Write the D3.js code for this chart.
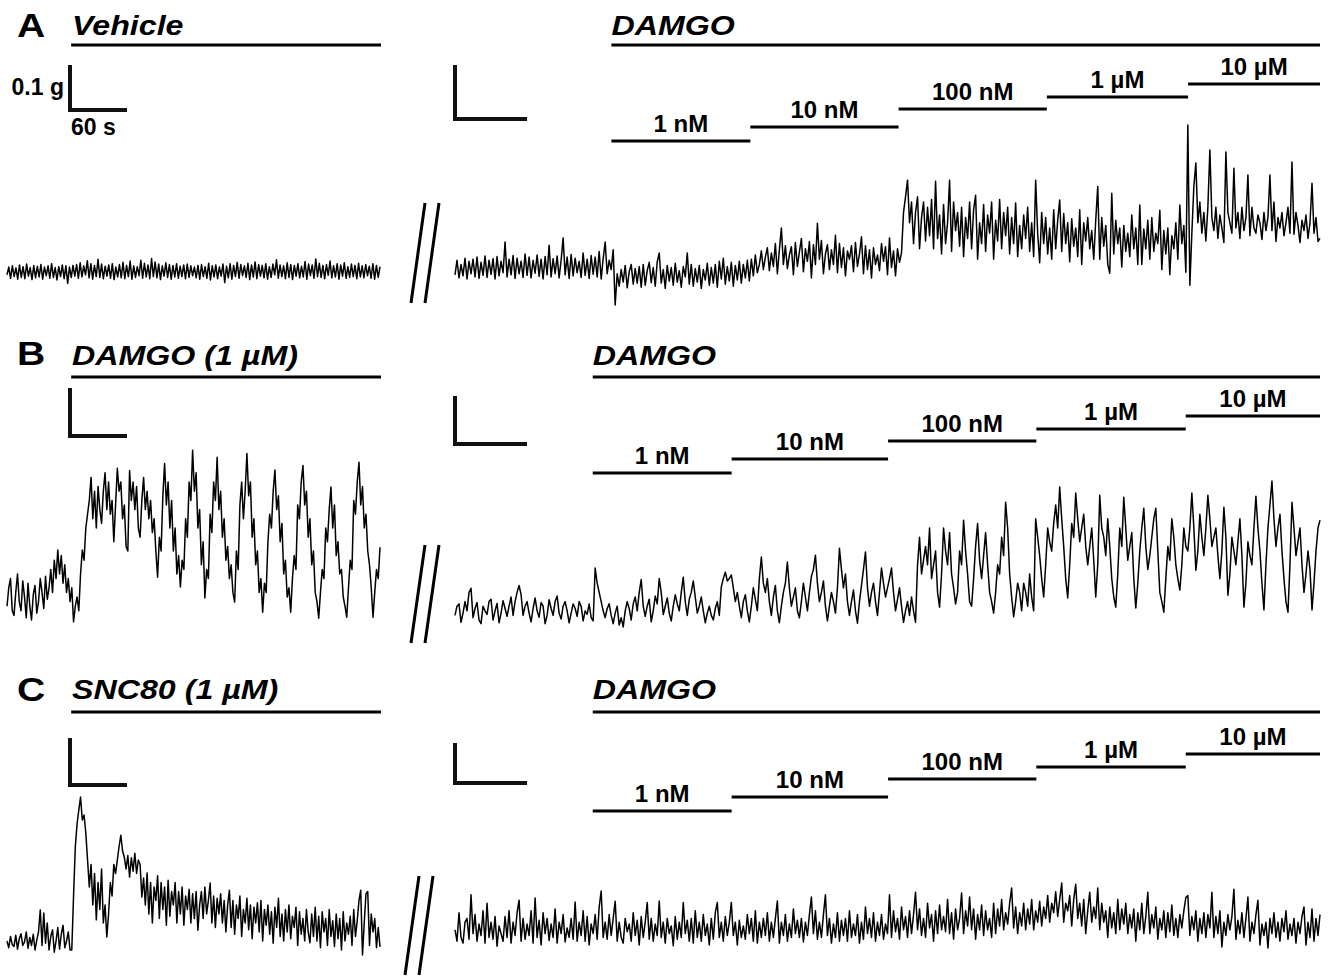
<!DOCTYPE html>
<html>
<head>
<meta charset="utf-8">
<title>DAMGO tension traces</title>
<script src="https://cdnjs.cloudflare.com/ajax/libs/d3/7.8.5/d3.min.js"></script>
<style>
body { margin: 0; background: #fff; }
svg text {
  font-family: "Liberation Sans", Arial, Helvetica, sans-serif;
  font-weight: bold;
  fill: #000;
}
</style>
</head>
<body>
<svg id="chart" width="1331" height="977"></svg>
<script>

/* ---- data: tension in mg (relative to resting level), sampled evenly in time ---- */

var LEFT_DURATION = 407;   // s, pre-treatment recording
var RIGHT_DURATION = 741;  // s, cumulative DAMGO recording
var LEFT_DRUG_START = 70;  // s

var doseLabels = ["1 nM", "10 nM", "100 nM", "1 \u00b5M", "10 \u00b5M"];
var doseTimesA = [134, 253, 380, 507, 628, 741];
var doseTimesB = [118, 237, 371, 498, 626, 741];
var doseTimesC = [118, 237, 371, 498, 626, 741];

var pretreatLabels = ["Vehicle", "DAMGO (1 \u00b5M)", "SNC80 (1 \u00b5M)"];

var traceA_left = [
  12,30,4,33,8,28,2,35,6,31,3,37,9,29,1,34,5,32,7,36,
  2,30,10,33,4,38,6,29,0,31,8,35,3,33,-8,30,6,34,9,36,
  4,40,7,33,12,45,5,38,2,34,8,48,6,37,3,32,9,35,4,38,
  1,30,7,36,5,41,3,34,8,44,2,33,6,31,10,46,4,39,7,35,
  3,50,8,42,5,37,1,33,9,40,6,36,2,34,7,38,4,32,8,35,
  3,37,6,33,10,30,5,34,2,36,8,31,4,39,0,33,7,35,3,30,
  9,37,-6,32,5,38,2,34,8,41,4,36,10,33,6,39,1,35,7,42,
  3,36,9,34,5,38,2,31,6,37,12,47,4,35,8,33,3,40,6,36,
  1,34,9,38,5,32,7,43,2,37,10,35,4,49,8,39,6,34,3,36,
  11,44,5,33,7,38,2,35,9,40,4,31,6,37,8,34,3,39,7,33,
  5,36,10,32,4,38,2,34,6,31
];

var traceA_right = [
  10,38,4,30,8,42,2,36,12,40,6,44,3,34,9,46,5,38,11,41,
  2,45,8,36,14,73,6,40,10,47,3,42,12,36,5,50,9,44,4,38,
  13,48,7,40,2,45,10,67,6,41,12,46,4,38,81,10,44,3,49,8,
  42,14,36,5,52,9,40,3,47,11,44,6,55,2,41,73,12,38,20,
  58,-48,
  12,-12,20,-4,28,-15,16,30,-8,22,-6,26,-14,30,-10,18,34,-5,24,-12,
  35,52,-6,20,-16,28,-2,24,-10,32,-4,18,-14,26,6,52,-8,30,-12,22,
  -4,28,-16,20,0,32,-10,24,-6,30,-14,36,2,42,-8,26,-2,34,-12,28,
  0,36,-6,30,4,38,-2,40,
  8,48,14,30,56,20,44,62,18,52,26,70,12,58,100,30,66,22,48,64,
  10,72,26,54,80,16,60,36,74,4,68,30,109,40,76,12,50,68,20,58,
  30,86,14,70,24,62,8,56,40,66,16,72,26,50,83,12,66,20,58,4,
  62,30,48,18,70,36,64,10,81,24,56,8,60,34,52,
  130,160,192,110,150,70,130,160,60,120,150,75,140,85,155,60,190,80,125,50,
  145,70,110,192,55,150,95,130,65,140,45,120,80,150,60,135,163,40,110,70,
  145,55,125,90,150,40,115,75,155,60,130,85,140,50,120,70,148,45,105,60,
  125,80,140,55,110,45,192,90,33,130,70,120,50,100,40,135,60,115,154,55,
  128,70,110,35,118,65,100,45,135,30,110,75,120,60,95,40,115,180,40,120,
  65,105,30,13,167,50,115,70,100,25,105,55,90,45,125,60,100,30,144,30,
  98,60,115,40,120,55,90,70,134,20,95,50,100,10,85,60,110,40,144,70,105,15,
  298,-10,
  90,180,225,110,150,90,130,75,140,250,120,95,140,80,125,100,72,246,130,110,
  90,215,100,130,80,140,95,120,202,85,140,100,90,125,110,78,130,95,120,202,
  95,150,74,120,100,130,85,110,140,90,227,88,130,105,72,115,95,125,80,110,
  186,90,120,74,80
];

var traceB_left = [
  30,70,90,20,10,60,100,40,20,85,50,5,80,30,0,55,75,15,40,90,60,25,95,45,70,
  110,60,130,90,152,100,140,80,120,
  60,90,40,70,-4,30,50,20,
  100,152,130,200,230,260,
  310,220,280,200,290,240,210,280,320,240,300,230,260,170,250,330,280,300,220,250,
  160,150,325,260,300,240,290,200,180,260,310,240,280,220,260,190,220,150,
  93,180,150,270,340,250,300,200,260,150,200,100,140,72,
  130,110,220,180,300,260,369,280,320,200,240,120,170,48,
  110,90,230,190,300,260,354,240,280,180,220,130,160,90,120,60,39,
  150,110,250,300,220,280,362,270,300,180,220,120,150,60,90,17,
  80,60,170,230,200,280,326,240,270,170,210,100,130,50,70,17,
  90,140,110,250,220,300,336,250,280,180,220,120,150,60,40,4,
  60,110,90,200,170,240,289,200,250,140,170,100,110,50,30,6,
  70,130,110,260,230,300,343,250,290,200,230,150,120,70,6,60,110,90,158
];

var traceB_right = [
  10,30,35,-5,15,40,20,60,69,5,25,38,0,-8,30,20,12,40,45,0,
  20,36,-6,15,42,25,8,30,50,10,40,60,75,55,10,30,40,15,-4,25,
  48,20,6,38,30,-8,10,44,25,10,40,52,15,2,30,40,20,-6,15,35,
  25,8,40,30,-2,20,12,35,5,-2,
  113,
  80,60,40,20,5,25,35,10,-8,15,30,-11,5,-15,20,40,25,0,35,50,
  20,60,88,30,8,30,45,-4,20,52,35,90,60,12,30,48,15,-2,30,55,
  35,20,60,93,40,10,45,60,85,50,15,30,50,20,-6,15,30,10,0,25,40,10,
  72,90,104,85,90,98,70,40,
  60,30,5,40,55,20,-4,30,70,45,20,90,137,80,60,90,40,10,50,75,
  20,-6,30,60,80,126,70,30,50,70,20,5,40,80,50,20,60,95,110,141,
  80,40,60,85,30,-2,30,60,40,15,70,156,110,70,100,40,10,40,65,20,
  -7,40,75,110,148,70,30,60,80,40,10,60,113,80,50,70,90,113,60,20,
  45,70,30,-5,20,40,10,50,20,-5,
  120,180,100,130,160,120,200,90,120,150,60,28,100,200,150,120,190,100,70,35,
  60,150,120,217,150,100,40,30,90,160,210,130,90,140,190,120,60,40,15,60,
  120,100,180,140,256,200,100,50,7,40,80,60,20,80,60,30,100,50,20,
  220,180,140,90,50,120,200,170,150,210,250,200,289,220,160,90,48,120,210,180,
  276,220,170,200,230,160,120,160,200,130,50,120,271,200,180,140,220,160,90,50,
  28,100,200,160,267,200,130,160,190,90,26,80,150,200,243,160,110,140,180,220,
  243,150,60,40,17,90,160,130,220,180,120,90,65,120,200,160,150,200,276,200,
  108,150,230,180,140,200,271,220,160,180,200,140,90,150,245,180,54,100,180,150,
  120,170,220,140,28,80,170,140,120,200,269,200,150,80,22,120,200,250,302,220,
  160,200,230,150,90,40,17,120,256,200,140,170,200,120,60,100,150,110,22,80,150,200,217
];

var traceC_left = [
  20,5,30,12,8,33,2,25,36,10,18,40,4,28,10,35,0,22,40,89,10,82,15,60,0,30,45,-5,20,50,2,35,55,5,20,40,0,
  0,120,229,280,311,340,289,300,260,200,140,
  190,100,170,67,150,90,180,60,100,29,
  80,150,120,190,170,200,230,255,220,206,
  180,210,162,205,175,215,170,200,190,118,
  160,100,171,80,150,60,140,110,165,70,150,90,140,55,155,75,130,100,150,60,
  130,80,140,55,120,90,135,60,125,70,130,44,100,130,70,140,80,110,149,60,
  120,50,115,80,125,60,110,40,100,133,50,110,35,100,70,120,30,90,60,115,
  45,100,25,95,60,105,40,110,20,90,55,100,35,85,15,95,50,115,30,80,
  20,90,40,100,25,75,50,95,10,85,35,70,20,90,40,16,80,30,95,20,
  75,5,85,40,70,10,90,30,65,8,80,25,70,0,85,20,60,35,75,10,
  90,30,65,110,133,-11,60,125,130,10,80,40,70,5,50,7
];

var traceC_right = [
  40,10,85,20,5,60,70,15,132,30,80,10,55,25,90,5,110,20,60,15,
  75,-3,50,30,10,75,20,90,5,60,25,85,118,10,70,15,55,25,90,5,
  124,20,65,0,85,30,70,12,55,20,95,5,60,30,80,8,45,20,70,15,
  113,10,60,25,90,10,75,0,55,30,80,15,100,142,20,60,15,80,25,70,
  115,10,60,20,5,70,35,55,10,85,25,65,0,75,20,60,112,15,70,10,
  55,25,116,20,60,5,70,30,50,-2,75,15,60,20,112,30,65,10,70,5,
  90,20,60,10,80,25,55,0,70,15,85,112,20,60,10,75,25,60,112,25,
  60,0,65,20,50,15,80,30,70,10,90,5,60,20,70,25,85,10,60,20,
  70,116,5,60,25,80,10,55,20,95,30,65,20,70,8,60,25,80,126,30,
  90,15,60,20,80,132,25,70,5,55,20,85,10,65,25,70,10,90,20,55,
  25,80,5,60,15,100,30,70,20,85,10,60,25,80,15,55,30,132,20,90,
  35,70,15,100,40,75,20,90,30,80,139,40,95,25,70,20,110,45,80,10,
  90,30,105,40,75,35,120,30,85,15,95,40,70,137,30,90,50,126,40,95,
  15,80,40,105,25,90,40,70,20,110,30,95,50,120,40,85,55,110,150,45,
  100,30,85,50,110,40,95,55,120,40,90,60,115,50,100,70,130,60,110,85,
  140,75,120,163,60,110,90,130,50,120,160,70,110,50,120,30,90,139,60,100,
  70,150,40,110,60,90,20,100,45,85,30,120,40,95,55,110,30,80,45,95,
  10,85,40,110,30,75,139,30,80,45,100,15,70,40,90,20,85,35,105,25,
  70,20,80,45,90,125,130,25,75,40,90,10,70,30,85,20,80,45,139,20,
  75,30,90,-5,60,25,80,40,75,147,15,65,30,85,20,70,126,10,60,30,
  80,118,0,55,25,60,-8,70,30,85,20,60,10,70,35,90,15,55,25,70,
  5,60,30,75,100,0,60,20,95,10,70,25,80
];

/* ---- layout ---- */
var svg = d3.select("#chart");
var W = 1331, H = 977;

svg.append("rect").attr("width", W).attr("height", H).attr("fill", "#fff");

var leftX = d3.scaleLinear().domain([0, LEFT_DURATION]).range([7, 380]);
var rightX = d3.scaleLinear().domain([0, RIGHT_DURATION]).range([455, 1320]);

// vertical offsets of the concentration staircase (px above first step)
var doseStep = [0, -14, -32, -44, -57];

var panels = [
  { letter: "A", letterY: 37, labelY: 35, drugLineY: 45,
    left: traceA_left, leftBase: 280, leftBarPx: 43, leftBarY: 110,
    right: traceA_right, rightBase: 280, rightBarPx: 52, rightBarY: 119,
    doses: doseTimesA, doseY: 141,
    brk: { top: 203, bottom: 303, dx: 0 } },
  { letter: "B", letterY: 365, labelY: 365, drugLineY: 377,
    left: traceB_left, leftBase: 620, leftBarPx: 46, leftBarY: 436,
    right: traceB_right, rightBase: 620, rightBarPx: 46, rightBarY: 444,
    doses: doseTimesB, doseY: 473,
    brk: { top: 545, bottom: 643, dx: 0 } },
  { letter: "C", letterY: 701, labelY: 699, drugLineY: 712,
    left: traceC_left, leftBase: 950, leftBarPx: 45, leftBarY: 785,
    right: traceC_right, rightBase: 945, rightBarPx: 38, rightBarY: 783,
    doses: doseTimesC, doseY: 811,
    brk: { top: 876, bottom: 975, dx: -6 } }
];

function drawTrace(g, data, xs, duration, base, barPx) {
  // 100 mg (0.1 g) spans the scale bar height
  var ys = d3.scaleLinear().domain([0, 100]).range([base, base - barPx]);
  var dt = duration / (data.length - 1);
  var line = d3.line()
      .x(function(d, i) { return xs(i * dt); })
      .y(function(d) { return ys(d); });
  g.append("path")
      .datum(data)
      .attr("d", line)
      .attr("fill", "none")
      .attr("stroke", "#000")
      .attr("stroke-width", 1.5)
      .attr("stroke-linejoin", "round");
  return ys;
}

function drawScaleBar(g, x0, y0, xs, ys) {
  var w = xs(60) - xs(0);
  var h = ys(0) - ys(100);
  g.append("path")
      .attr("d", "M" + x0 + "," + (y0 - h) + "V" + y0 + "H" + (x0 + w))
      .attr("fill", "none")
      .attr("stroke", "#111")
      .attr("stroke-width", 4)
      .attr("stroke-linecap", "square");
}

panels.forEach(function(p, k) {
  var g = svg.append("g").attr("class", "panel-" + p.letter);

  // panel letter
  g.append("text")
      .attr("transform", "translate(17," + p.letterY + ") scale(1.15,1)")
      .style("font-size", "34px")
      .text(p.letter);

  // pre-treatment label + bar
  g.append("text")
      .attr("transform", "translate(72," + p.labelY + ") scale(1.15,1)")
      .style("font-size", "28px")
      .style("font-style", "italic")
      .text(pretreatLabels[k]);
  g.append("line")
      .attr("x1", leftX(LEFT_DRUG_START)).attr("x2", leftX(LEFT_DURATION) + 1)
      .attr("y1", p.drugLineY).attr("y2", p.drugLineY)
      .attr("stroke", "#000").attr("stroke-width", 3);

  // DAMGO label + bar
  g.append("text")
      .attr("transform", "translate(" + rightX(p.doses[0]) + "," + p.labelY + ") scale(1.15,1)")
      .style("font-size", "28px")
      .style("font-style", "italic")
      .text("DAMGO");
  g.append("line")
      .attr("x1", rightX(p.doses[0])).attr("x2", rightX(RIGHT_DURATION))
      .attr("y1", p.drugLineY).attr("y2", p.drugLineY)
      .attr("stroke", "#000").attr("stroke-width", 3);

  // concentration staircase
  doseLabels.forEach(function(lab, j) {
    var y = p.doseY + doseStep[j];
    var x1 = rightX(p.doses[j]), x2 = rightX(p.doses[j + 1]);
    g.append("line")
        .attr("x1", x1).attr("x2", x2)
        .attr("y1", y).attr("y2", y)
        .attr("stroke", "#000").attr("stroke-width", 3);
    g.append("text")
        .attr("x", (x1 + x2) / 2)
        .attr("y", y - 9)
        .attr("text-anchor", "middle")
        .style("font-size", "24px")
        .text(lab);
  });

  // traces
  var ysL = drawTrace(g, p.left, leftX, LEFT_DURATION, p.leftBase, p.leftBarPx);
  var ysR = drawTrace(g, p.right, rightX, RIGHT_DURATION, p.rightBase, p.rightBarPx);

  // scale bars (0.1 g / 60 s)
  drawScaleBar(g, 70, p.leftBarY, leftX, ysL);
  drawScaleBar(g, 455, p.rightBarY, rightX, ysR);

  // axis break "//"
  [0, 14].forEach(function(off) {
    g.append("line")
        .attr("x1", 425 + off + p.brk.dx).attr("y1", p.brk.top)
        .attr("x2", 411 + off + p.brk.dx).attr("y2", p.brk.bottom)
        .attr("stroke", "#000").attr("stroke-width", 3);
  });
});

// scale bar captions (shown once, panel A)
svg.append("text")
    .attr("x", 64).attr("y", 95)
    .attr("text-anchor", "end")
    .style("font-size", "23px")
    .text("0.1 g");
svg.append("text")
    .attr("x", 71).attr("y", 135)
    .style("font-size", "23px")
    .text("60 s");

</script>
</body>
</html>
